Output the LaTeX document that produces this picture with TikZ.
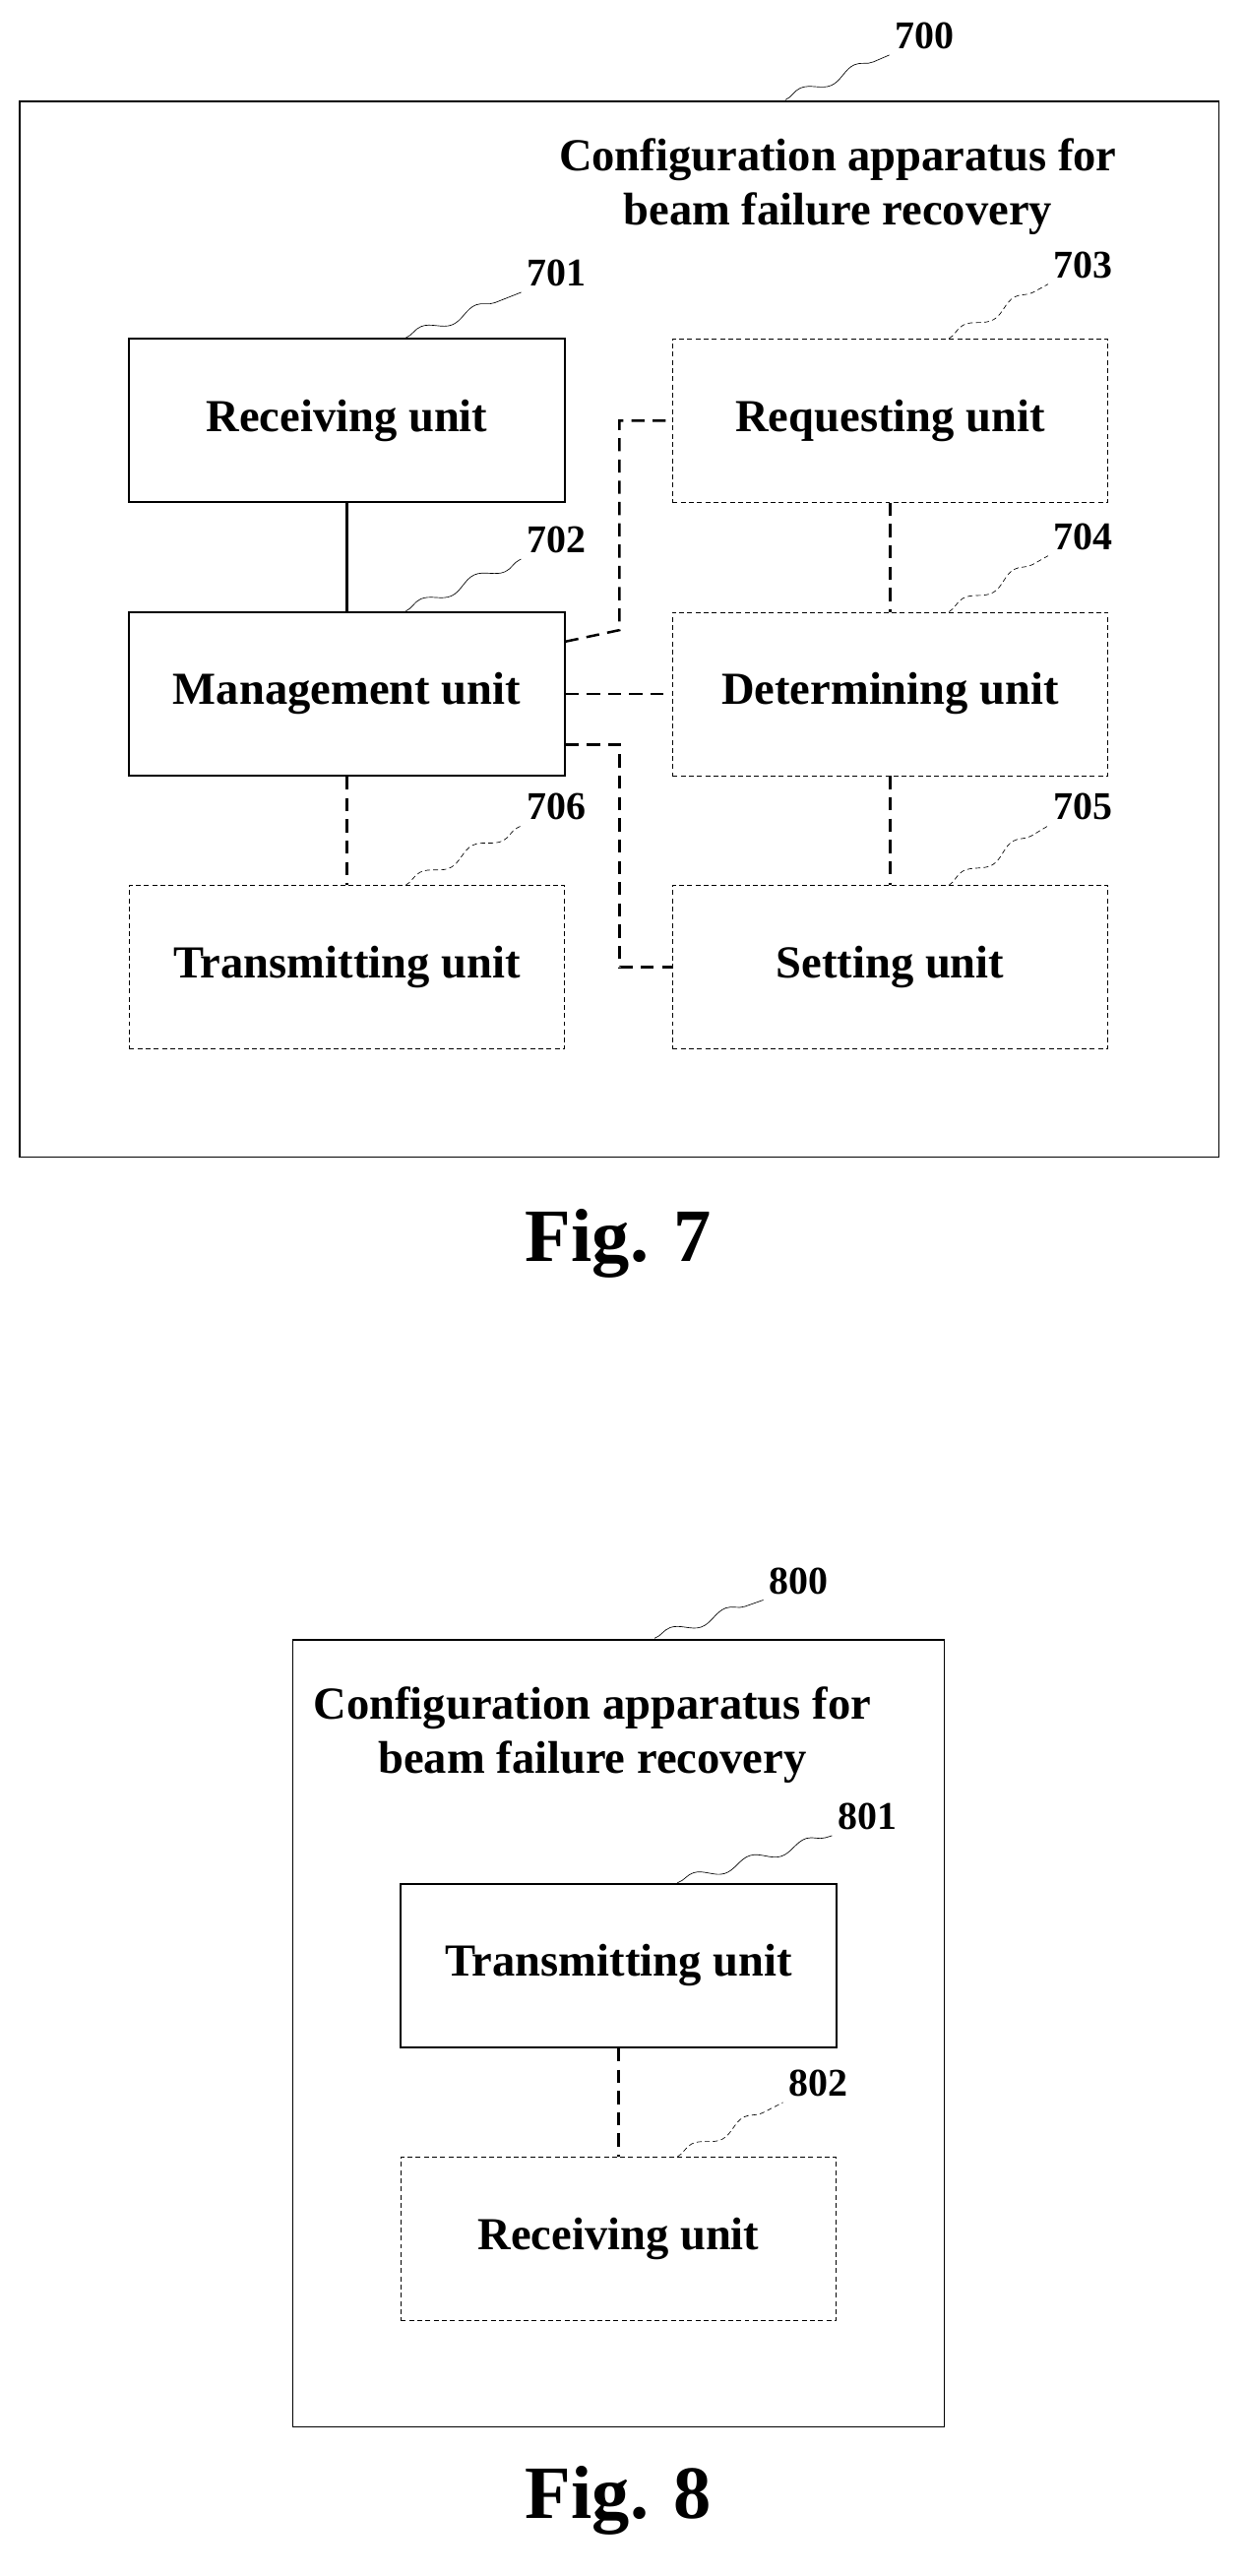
\documentclass[tikz,border=0pt]{standalone}
\usepackage{fontspec}
\setmainfont{Liberation Serif}
\usetikzlibrary{decorations.pathmorphing}
\begin{document}
\begin{tikzpicture}[x=1pt, y=-1pt,
    unit/.style={draw, line width=1.2pt, minimum width=266pt, minimum height=100pt, font=\fontsize{28}{32}\selectfont\bfseries},
    opt/.style={unit, thin, dash pattern=on 3pt off 2pt},
    frame/.style={draw, line width=0.8pt},
    num/.style={font=\fontsize{24}{28}\selectfont\bfseries},
    leader/.style={thin, decorate, decoration={snake, amplitude=3pt, segment length=36pt}},
    link/.style={line width=1.5pt, dash pattern=on 8pt off 5pt},
    title/.style={align=center, font=\fontsize{28}{33}\selectfont\bfseries},
    figlabel/.style={font=\fontsize{46}{52}\selectfont\bfseries}]
    \useasboundingbox (0,0) rectangle (760,1574);
    % Fig. 7
    \draw[frame] (12,62) rectangle (745,707);
    \node[num] (n700) at (565,22) {700};
    \coordinate (c700) at (480,61);
    \draw[leader] (c700) -- (n700.south west);
    \node[title] (t7) at (512,114) {Configuration apparatus for\\beam failure recovery};
    \node[unit] (recv) at (212,257) {Receiving unit};
    \node[unit] (mgmt) at (212,424) {Management unit};
    \node[opt] (trans) at (212,591) {Transmitting unit};
    \node[opt] (req) at (544,257) {Requesting unit};
    \node[opt] (det) at (544,424) {Determining unit};
    \node[opt] (set) at (544,591) {Setting unit};
    \node[num] (n701) at (340,167) {701};
    \node[num] (n702) at (340,330) {702};
    \node[num] (n703) at (662,162) {703};
    \node[num] (n704) at (662,328) {704};
    \node[num] (n705) at (662,493) {705};
    \node[num] (n706) at (340,493) {706};
    \draw[leader] (recv.north) ++(36,0) coordinate (c701) -- (n701.south west);
    \draw[leader] (mgmt.north) ++(36,0) coordinate (c702) -- (n702.south west);
    \draw[leader, densely dashed] (req.north) ++(36,0) coordinate (c703) -- (n703.south west);
    \draw[leader, densely dashed] (det.north) ++(36,0) coordinate (c704) -- (n704.south west);
    \draw[leader, densely dashed] (set.north) ++(36,0) coordinate (c705) -- (n705.south west);
    \draw[leader, densely dashed] (trans.north) ++(36,0) coordinate (c706) -- (n706.south west);
    \draw[line width=1.5pt] (recv) -- (mgmt);
    \draw[link] (mgmt) -- (trans);
    \draw[link] (mgmt.east) -- (det.west);
    \draw[link] (req) -- (det);
    \draw[link] (det) -- (set);
    \draw[link] ([yshift=32pt]mgmt.east) -- ++(33,-7) |- (req.west);
    \draw[link] ([yshift=-31pt]mgmt.east) -| ++(33,0) |- (set.west);
    \node[figlabel] (fig7) at (378,760) {Fig. 7};
    % Fig. 8
    \draw[frame] (179,1002) rectangle (577,1483);
    \node[num] (n800) at (488,966) {800};
    \coordinate (c800) at (400,1001);
    \draw[leader] (c800) -- (n800.south west);
    \node[title] (t8) at (362,1060) {Configuration apparatus for\\beam failure recovery};
    \node[unit] (trans8) at (378,1201) {Transmitting unit};
    \node[opt] (recv8) at (378,1368) {Receiving unit};
    \node[num] (n801) at (530,1110) {801};
    \node[num] (n802) at (500,1273) {802};
    \draw[leader] (trans8.north) ++(36,0) coordinate (c801) -- (n801.south west);
    \draw[leader, densely dashed] (recv8.north) ++(36,0) coordinate (c802) -- (n802.south west);
    \draw[link] (trans8) -- (recv8);
    \node[figlabel] (fig8) at (378,1528) {Fig. 8};
\end{tikzpicture}
\end{document}
